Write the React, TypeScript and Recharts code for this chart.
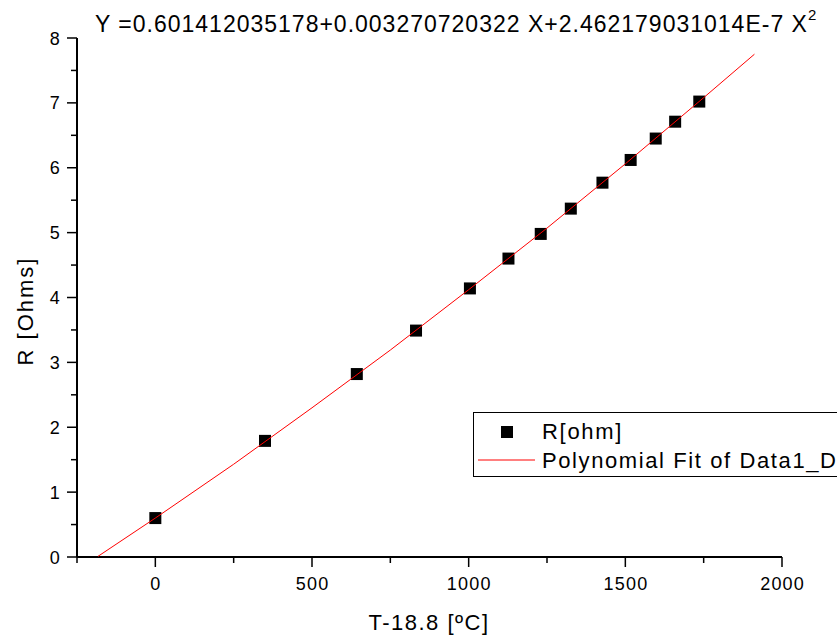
import { ScatterChart, Scatter, XAxis, YAxis } from 'recharts';

const measT = [0, 350, 643, 832, 1004, 1127, 1230, 1326, 1427, 1517, 1597, 1659, 1736];
const measR = [0.6, 1.79, 2.82, 3.49, 4.14, 4.6, 4.98, 5.37, 5.77, 6.12, 6.45, 6.71, 7.02];

// polynomial fit curve
const fitT = [-183, 0, 250, 500, 750, 1000, 1250, 1500, 1750, 1912];
const fitR = [0.01, 0.6, 1.43, 2.3, 3.19, 4.12, 5.07, 6.06, 7.08, 7.75];

const xTicks = [-250, 0, 250, 500, 750, 1000, 1250, 1500, 1750, 2000];
const yTicks = [0, 0.5, 1, 1.5, 2, 2.5, 3, 3.5, 4, 4.5, 5, 5.5, 6, 6.5, 7, 7.5, 8];

const TITLE = 'Y =0.601412035178+0.003270720322 X+2.462179031014E-7 X';

const W = 837;
const H = 638;
const LEFT = 77;
const RIGHT = 782;
const TOP = 38;
const BOTTOM = 557;
const FONT = '"Liberation Sans", Arial, sans-serif';

const measured = measT.map((t, i) => ({ t, r: measR[i] }));
const fit = fitT.map((t, i) => ({ t, r: fitR[i] }));

function XTick(props: any) {
  const { x, payload } = props;
  const major = payload.value % 500 === 0;
  return (
    <g>
      <line x1={x} x2={x} y1={BOTTOM} y2={BOTTOM + (major ? 10 : 6)} stroke="#000" strokeWidth={1.5} />
      {major && (
        <text x={x + 0.6} y={590} textAnchor="middle" fontSize={18} letterSpacing={1.2} fill="#000" fontFamily={FONT}>
          {payload.value}
        </text>
      )}
    </g>
  );
}

function YTick(props: any) {
  const { y, payload } = props;
  const major = Number.isInteger(payload.value);
  return (
    <g>
      <line x1={LEFT} x2={LEFT - (major ? 10 : 6)} y1={y} y2={y} stroke="#000" strokeWidth={1.5} />
      {major && (
        <text x={61} y={y + 6.5} textAnchor="end" fontSize={18} letterSpacing={1.2} fill="#000" fontFamily={FONT}>
          {payload.value}
        </text>
      )}
    </g>
  );
}

const Square = (props: any) => (
  <rect x={props.cx - 6} y={props.cy - 6} width={12} height={12} fill="#000" />
);

export default function App() {
  return (
    <div style={{ position: 'absolute', left: 0, top: 0, width: W, height: H, background: '#fff', overflow: 'hidden' }}>
      <ScatterChart
        width={W}
        height={H}
        margin={{ top: TOP, right: W - RIGHT, left: LEFT - 60, bottom: H - BOTTOM - 40 }}
      >
        <XAxis
          type="number"
          dataKey="t"
          domain={[-250, 2000]}
          ticks={xTicks}
          interval={0}
          height={40}
          tickLine={false}
          axisLine={{ stroke: '#000', strokeWidth: 2 }}
          tick={<XTick />}
          allowDataOverflow
        />
        <YAxis
          type="number"
          dataKey="r"
          domain={[0, 8]}
          ticks={yTicks}
          interval={0}
          width={60}
          tickLine={false}
          axisLine={{ stroke: '#000', strokeWidth: 2 }}
          tick={<YTick />}
          allowDataOverflow
        />
        <Scatter data={measured} shape={Square} isAnimationActive={false} />
        <Scatter
          data={fit}
          line={{ stroke: '#ff0000', strokeWidth: 1 }}
          shape={() => <g />}
          isAnimationActive={false}
        />
      </ScatterChart>

      <svg width={W} height={H} style={{ position: 'absolute', left: 0, top: 0, pointerEvents: 'none' }} fontFamily={FONT}>
        <text x={95} y={32} fontSize={23} letterSpacing={1} fill="#000">
          {TITLE}
          <tspan dy={-12} fontSize={15}>2</tspan>
        </text>

        <text x={429} y={630} textAnchor="middle" fontSize={22} letterSpacing={1.5} fill="#000">
          T-18.8 [ºC]
        </text>
        <text transform="translate(33,311) rotate(-90)" textAnchor="middle" fontSize={22} letterSpacing={2} fill="#000">
          R [Ohms]
        </text>

        <rect x={473.5} y={412.5} width={400} height={64} fill="#fff" stroke="#000" strokeWidth={1} />
        <rect x={501} y={426} width={12} height={12} fill="#000" />
        <text x={542} y={439} fontSize={22} letterSpacing={1.7} fill="#000">
          R[ohm]
        </text>
        <line x1={478} x2={535} y1={460} y2={460} stroke="#ff0000" strokeWidth={1} />
        <text x={542} y={468} fontSize={22} letterSpacing={1.6} fill="#000">
          Polynomial Fit of Data1_D
        </text>
      </svg>
    </div>
  );
}
